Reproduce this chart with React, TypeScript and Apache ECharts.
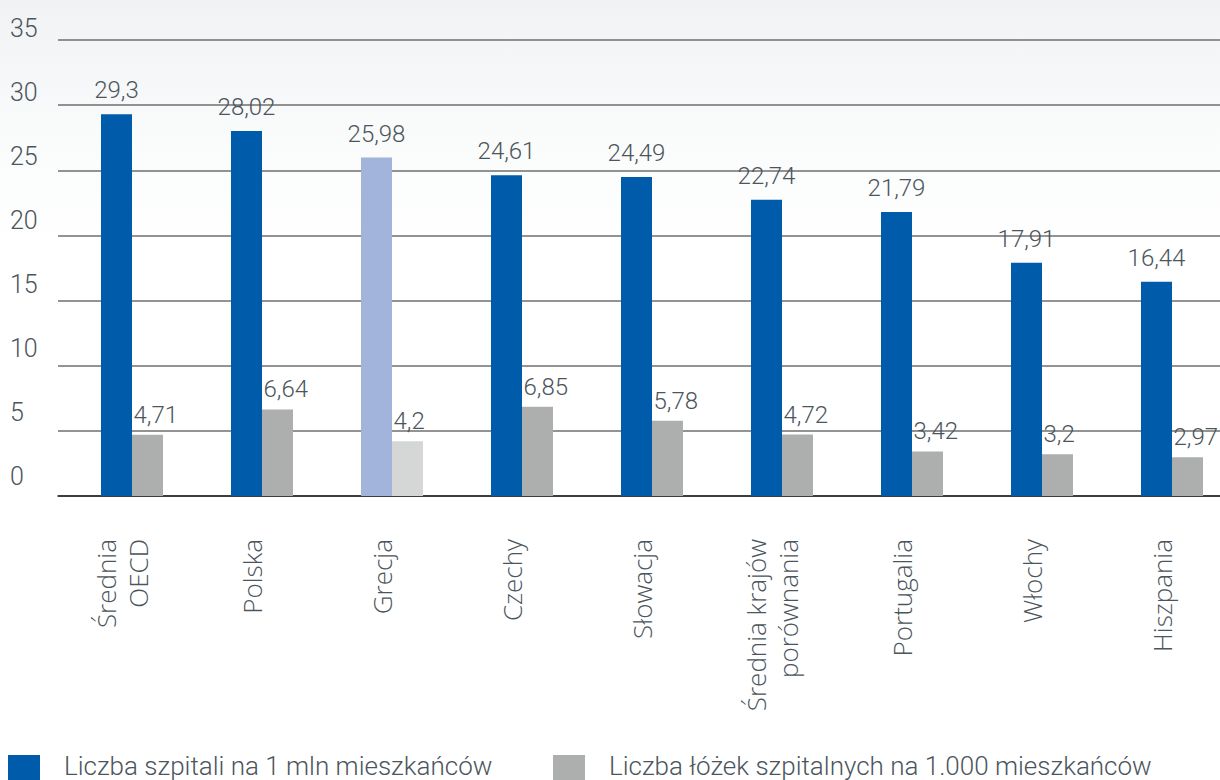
import React, { useEffect, useRef } from "react";
import * as echarts from "echarts";

const categories = [
  "Średnia\nOECD",
  "Polska",
  "Grecja",
  "Czechy",
  "Słowacja",
  "Średnia krajów\nporównania",
  "Portugalia",
  "Włochy",
  "Hiszpania",
];
const hospitalsPerMillion = [29.3, 28.02, 25.98, 24.61, 24.49, 22.74, 21.79, 17.91, 16.44];
const bedsPerThousand = [4.71, 6.64, 4.2, 6.85, 5.78, 4.72, 3.42, 3.2, 2.97];
const seriesNames = [
  "Liczba szpitali na 1 mln mieszkańców",
  "Liczba łóżek szpitalnych na 1.000 mieszkańców",
];
const highlightedCategory = "Grecja";
const yMin = 0;
const yMax = 35;
const yStep = 5;

const BLUE = "#005BAA";
const BLUE_LIGHT = "#A2B4DC";
const GRAY = "#ADAEAE";
const GRAY_LIGHT = "#D5D6D6";
const TEXT = "#4B555C";
const FONT = "Roboto, 'Noto Sans', sans-serif";
const XFONT = "'Open Sans', 'Noto Sans', sans-serif";

const fmt = (p: any) => String(p.value).replace(".", ",");

export default function App() {
  const ref = useRef<HTMLDivElement>(null);

  useEffect(() => {
    if (!ref.current) return;
    const chart = echarts.init(ref.current, undefined, { renderer: "svg" });

    const blueData = hospitalsPerMillion.map((v, i) =>
      categories[i] === highlightedCategory ? { value: v, itemStyle: { color: BLUE_LIGHT } } : v
    );
    const grayData = bedsPerThousand.map((v, i) =>
      categories[i] === highlightedCategory ? { value: v, itemStyle: { color: GRAY_LIGHT } } : v
    );

    const legendItems = [
      { x: 8, color: BLUE, name: seriesNames[0] },
      { x: 553, color: GRAY, name: seriesNames[1] },
    ];

    const option: any = {
      animation: false,
      backgroundColor: new echarts.graphic.LinearGradient(0, 0, 0, 1, [
        { offset: 0, color: "#f1f2f4" },
        { offset: 0.18, color: "#fafbfb" },
        { offset: 0.32, color: "#ffffff" },
        { offset: 1, color: "#ffffff" },
      ]),
      grid: [
        { left: 58, right: 20, top: 40, height: 456 },
        { left: 67, right: 3, top: 40, height: 456 },
        { left: 58, right: 20, top: 28, height: 448 },
        { left: 57, right: 13, top: 40, height: 456 },
      ],
      xAxis: [
        {
          type: "value",
          gridIndex: 0,
          min: 0,
          max: 1,
          axisLine: { show: true, onZero: false, lineStyle: { color: "#222", width: 1.5 } },
          axisTick: { show: false },
          axisLabel: { show: false },
          splitLine: { show: false },
        },
        {
          type: "category",
          gridIndex: 1,
          data: categories,
          axisLine: { show: false },
          axisTick: { show: false },
          splitLine: { show: false },
          axisLabel: { show: false },
        },
        {
          type: "value",
          gridIndex: 2,
          show: false,
          min: 0,
          max: 1,
        },
        {
          type: "category",
          gridIndex: 3,
          data: categories,
          axisLine: { show: false },
          axisTick: { show: false },
          splitLine: { show: false },
          axisLabel: {
            interval: 0,
            rotate: 90,
            margin: 43,
            fontSize: 26,
            lineHeight: 32,
            fontWeight: 300,
            fontFamily: XFONT,
            color: TEXT,
          },
        },
      ],
      yAxis: [
        {
          type: "value",
          gridIndex: 0,
          min: yMin,
          max: yMax,
          interval: yStep,
          axisLine: { show: false },
          axisTick: { show: false },
          axisLabel: { show: false },
          splitLine: { show: true, lineStyle: { color: "#6f6f6f", width: 1.5 } },
        },
        {
          type: "value",
          gridIndex: 1,
          min: yMin,
          max: yMax,
          interval: yStep,
          show: false,
          splitLine: { show: false },
        },
        {
          type: "value",
          gridIndex: 2,
          min: yMin,
          max: yMax,
          interval: yStep,
          axisLine: { show: false },
          axisTick: { show: false },
          splitLine: { show: false },
          axisLabel: {
            align: "left",
            verticalAlign: "middle",
            margin: 48,
            fontSize: 25,
            fontWeight: 300,
            fontFamily: FONT,
            color: TEXT,
          },
        },
        {
          type: "value",
          gridIndex: 3,
          min: yMin,
          max: yMax,
          show: false,
          splitLine: { show: false },
        },
      ],
      graphic: legendItems.flatMap((it) => [
        {
          type: "rect",
          left: it.x,
          top: 755,
          shape: { width: 32, height: 32 },
          style: { fill: it.color },
          silent: true,
        },
        {
          type: "text",
          x: it.x + 56,
          y: 766,
          style: {
            text: it.name,
            fill: TEXT,
            fontSize: 26,
            fontWeight: 300,
            fontFamily: FONT,
            verticalAlign: "middle",
            align: "left",
          },
          silent: true,
        },
      ]),
      series: [
        {
          name: seriesNames[0],
          type: "bar",
          xAxisIndex: 1,
          yAxisIndex: 1,
          data: blueData,
          barWidth: 31,
          barGap: "0%",
          itemStyle: { color: BLUE },
          label: {
            show: true,
            position: "top",
            distance: 12,
            formatter: fmt,
            fontSize: 24,
            fontWeight: 300,
            fontFamily: FONT,
            color: TEXT,
          },
        },
        {
          name: seriesNames[1],
          type: "bar",
          xAxisIndex: 1,
          yAxisIndex: 1,
          data: grayData,
          barWidth: 31,
          barGap: "0%",
          itemStyle: { color: GRAY },
          label: {
            show: true,
            position: "top",
            distance: 8,
            align: "left",
            offset: [-14, 0],
            formatter: fmt,
            fontSize: 24,
            fontWeight: 300,
            fontFamily: FONT,
            color: TEXT,
          },
        },
      ],
    };

    chart.setOption(option);
    return () => chart.dispose();
  }, []);

  return (
    <div
      style={{
        position: "absolute",
        left: 0,
        top: 0,
        width: 1220,
        height: 780,
        overflow: "hidden",
      }}
    >
      <div ref={ref} style={{ width: 1240, height: 780 }} />
    </div>
  );
}
